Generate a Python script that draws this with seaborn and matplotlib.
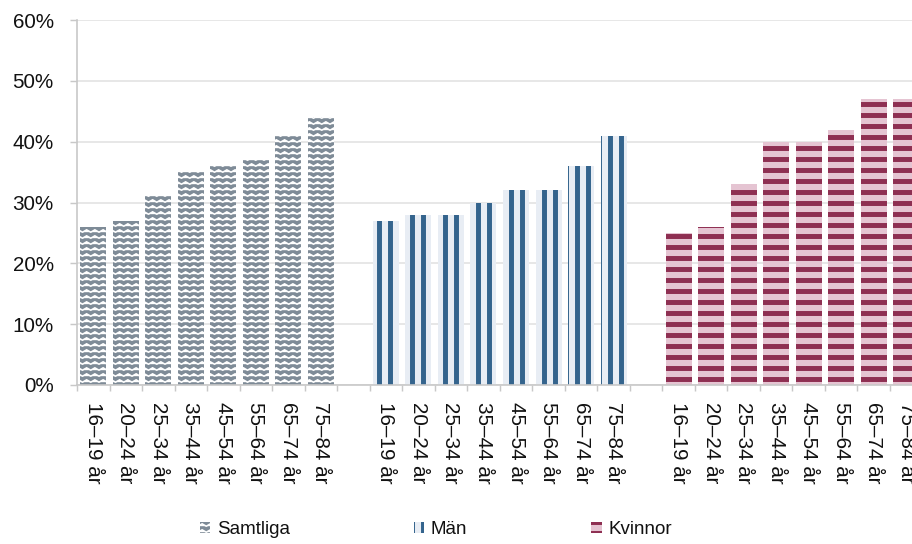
import numpy as np
import pandas as pd
import seaborn as sns
import matplotlib.pyplot as plt
import matplotlib.hatch as mhatch
import matplotlib.patches as mpatches
from matplotlib.legend_handler import HandlerPatch
from matplotlib.path import Path
from matplotlib.ticker import PercentFormatter

ages = ['16–19 år', '20–24 år', '25–34 år', '35–44 år',
        '45–54 år', '55–64 år', '65–74 år', '75–84 år']
groups = ['Samtliga', 'Män', 'Kvinnor']
samtliga = [0.26, 0.27, 0.31, 0.35, 0.36, 0.37, 0.41, 0.44]
man = [0.27, 0.28, 0.28, 0.30, 0.32, 0.32, 0.36, 0.41]
kvinnor = [0.25, 0.26, 0.33, 0.40, 0.40, 0.42, 0.47, 0.47]

DPI = 66  # hatch tile = dpi px, so '|' / '-' give an 11 px stripe period


class ZigzagHatch(mhatch.HatchPatternBase):
    # takes the place of the small-circle hatch 'o': rows of zigzag lines
    def __init__(self, hatch, density):
        self.rows = 11 if 'o' in hatch else 0
        self.waves = 8
        self.num_vertices = self.rows * (2 * self.waves + 1)

    def set_vertices_and_codes(self, vertices, codes):
        n = 2 * self.waves + 1
        xs = np.linspace(0, 1, n)
        offs = np.where(np.arange(n) % 2 == 0, -0.018, 0.018)
        for i in range(self.rows):
            y = (i + 0.5) / self.rows
            vertices[i * n:(i + 1) * n, 0] = xs
            vertices[i * n:(i + 1) * n, 1] = y + offs
            codes[i * n] = Path.MOVETO
            codes[i * n + 1:(i + 1) * n] = Path.LINETO


mhatch._hatch_types[mhatch._hatch_types.index(mhatch.SmallCircles)] = ZigzagHatch

# face colour, hatch colour, hatch, hatch linewidth (pt)
styles = {
    'Samtliga': ('#7e8b97', '#ffffff', 'o', 1.7),
    'Män': ('#e8edf4', '#34648d', '|', 5.4),
    'Kvinnor': ('#e5c4d2', '#8e2f52', '-', 5.4),
}

sns.set_style('white')
plt.rcParams['font.family'] = ['Liberation Sans', 'DejaVu Sans']
plt.rcParams['hatch.linewidth'] = 5.4

rows = []
for g, vals in zip(groups, [samtliga, man, kvinnor]):
    for a, v in zip(ages, vals):
        rows.append({'key': f'{g}|{a}', 'group': g, 'value': v})
df = pd.DataFrame(rows)

order = ([f'Samtliga|{a}' for a in ages] + ['gap1'] +
         [f'Män|{a}' for a in ages] + ['gap2'] +
         [f'Kvinnor|{a}' for a in ages])

fig = plt.figure(figsize=(912 / DPI, 544 / DPI), dpi=DPI)
ax = fig.add_axes([77 / 912, 159 / 544, 845.5 / 912, 365 / 544])

sns.barplot(data=df, x='key', y='value', hue='group', order=order,
            hue_order=groups, palette={g: styles[g][0] for g in groups},
            dodge=False, width=0.8, saturation=1, legend=False, ax=ax)


def style_patch(p, g):
    face, hcol, hatch, hlw = styles[g]
    p.set_facecolor(face)
    p.set_edgecolor(hcol)
    p.set_linewidth(0)
    p.set_hatch(hatch)
    if hasattr(p, 'set_hatch_linewidth'):
        p.set_hatch_linewidth(hlw)


class StyledHandler(HandlerPatch):
    # legend boxes get the same hatch linewidth as the bars
    def create_artists(self, legend, orig_handle, *args):
        arts = super().create_artists(legend, orig_handle, *args)
        for a in arts:
            style_patch(a, orig_handle.get_label())
        return arts


for p in ax.patches:
    i = int(round(p.get_x() + p.get_width() / 2))
    style_patch(p, order[i].split('|')[0])

ax.set_xlim(-0.5, len(order) - 0.5)
ax.set_ylim(0, 0.6)
ax.yaxis.set_major_formatter(PercentFormatter(1.0, decimals=0))
ax.set_yticks(np.arange(0, 0.61, 0.1))

pos = [i for i, k in enumerate(order) if '|' in k]
ax.set_xticks(pos, [k.split('|')[1] for k in order if '|' in k],
              rotation=270, ha='center', va='top')
ax.set_xticks(np.arange(-0.5, len(order), 1), minor=True)
ax.tick_params(axis='x', which='major', length=0, pad=18.5,
               labelsize=22.5, labelcolor='#111111')
ax.tick_params(axis='x', which='minor', length=6.5, width=1.6,
               color='#c8c8c8', bottom=True)
ax.tick_params(axis='y', length=7.5, width=1.6, color='#c8c8c8', pad=18,
               labelsize=22.5, labelcolor='#111111', left=True)

ax.set_xlabel('')
ax.set_ylabel('')
ax.grid(axis='y', color='#e2e2e2', linewidth=1.8)
ax.set_axisbelow(True)
for s in ['top', 'right']:
    ax.spines[s].set_visible(False)
for s in ['left', 'bottom']:
    ax.spines[s].set_color('#c8c8c8')
    ax.spines[s].set_linewidth(1.8)

handles = []
for g in groups:
    h = mpatches.Patch(label=g)
    style_patch(h, g)
    handles.append(h)
fig.legend(handles=handles, loc='center', bbox_to_anchor=(0.478, 0.026),
           ncol=3, frameon=False, fontsize=20.5, handlelength=0.55,
           handleheight=0.55, handletextpad=0.35, columnspacing=6.6,
           labelcolor='#111111',
           handler_map={mpatches.Patch: StyledHandler()})

fig.savefig('out.png', dpi=DPI)
